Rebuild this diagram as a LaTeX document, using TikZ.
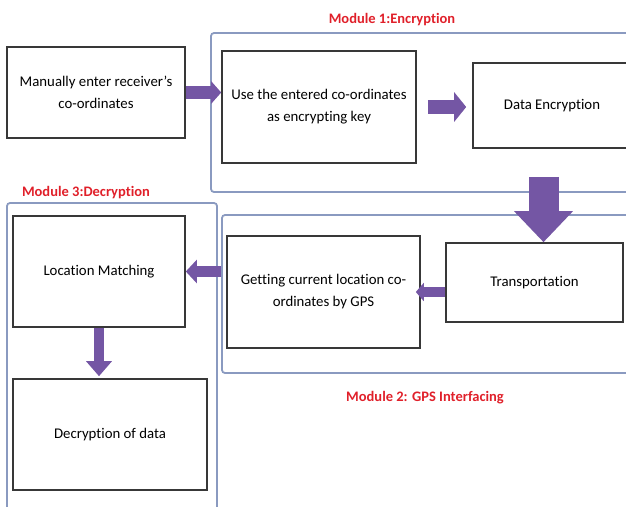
\documentclass[tikz,border=0pt]{standalone}
\usepackage{fontspec}
\setmainfont{Carlito}[Ligatures={TeX,NoCommon}]
\usetikzlibrary{arrows.meta}
\definecolor{arrowpurple}{HTML}{7456A4}
\definecolor{modblue}{HTML}{8A9AC0}
\definecolor{modred}{HTML}{E0202A}
\definecolor{boxgray}{HTML}{383838}
\begin{document}
\begin{tikzpicture}[x=1pt,y=-1pt,
  stepbox/.style={draw=boxgray,line width=1.6pt,fill=white,align=center,
    font=\fontsize{14.8}{22}\selectfont,inner sep=0pt},
  modframe/.style={draw=modblue,line width=1.8pt,rounded corners=3pt},
  modlabel/.style={text=modred,font=\bfseries\fontsize{14.5}{16}\selectfont,inner sep=0pt},
  blockarrow/.style={draw=arrowpurple,line cap=butt}]
\useasboundingbox (0,0) rectangle (626,506);
% module frames
\draw[modframe] (630,33) -- (211,33) -- (211,192) -- (630,192);
\draw[modframe] (630,215) -- (222,215) -- (222,373) -- (630,373);
\draw[modframe] (7,510) -- (7,203) -- (217,203) -- (217,510);
% labels
\node[modlabel] (m1) at (392,20) {Module 1:Encryption};
\node[modlabel] (m3) at (86,193) {Module 3:Decryption};
\node[modlabel] (m2) at (425,398) {Module 2: GPS Interfacing};
% boxes
\node[stepbox,minimum width=178pt,minimum height=91pt] (A) at (96,92.5) {Manually enter receiver's\\co-ordinates};
\node[stepbox,minimum width=194pt,minimum height=112pt] (B) at (319,107) {Use the entered co-ordinates\\as encrypting key};
\node[stepbox,minimum width=158pt,minimum height=85pt] (C) at (552,105.5) {Data Encryption};
\node[stepbox,minimum width=193pt,minimum height=112pt] (D) at (323.5,292) {Getting current location co-\\ordinates by GPS};
\node[stepbox,minimum width=177pt,minimum height=79pt] (E) at (534.5,282.5) {Transportation};
\node[stepbox,minimum width=172pt,minimum height=111pt] (F) at (99,271.5) {Location Matching};
\node[stepbox,minimum width=194pt,minimum height=111pt] (G) at (110,434.5) {Decryption of data};
% arrows
\coordinate (bigx) at (543.5,0);
\draw[blockarrow,line width=13pt,-{Triangle[length=10pt,width=22pt]}] (A.east) -- (A.east -| B.west);
\draw[blockarrow,line width=14pt,-{Triangle[length=12pt,width=29pt]},shorten <=11pt,shorten >=6pt] (B.east) -- (B.east -| C.west);
\draw[blockarrow,line width=30pt,-{Triangle[length=31pt,width=57pt]},shorten <=28pt] (C.south -| bigx) -- (E.north -| bigx);
\draw[blockarrow,line width=10pt,-{Triangle[length=8pt,width=18pt]},shorten >=-5pt] (D.east -| E.west) -- (D.east);
\draw[blockarrow,line width=11pt,-{Triangle[length=11pt,width=23pt]},shorten <=5pt] (F.east -| D.west) -- (F.east);
\draw[blockarrow,line width=10pt,-{Triangle[length=15pt,width=25pt]},shorten >=2pt] (F.south) -- (F.south |- G.north);
\end{tikzpicture}
\end{document}
